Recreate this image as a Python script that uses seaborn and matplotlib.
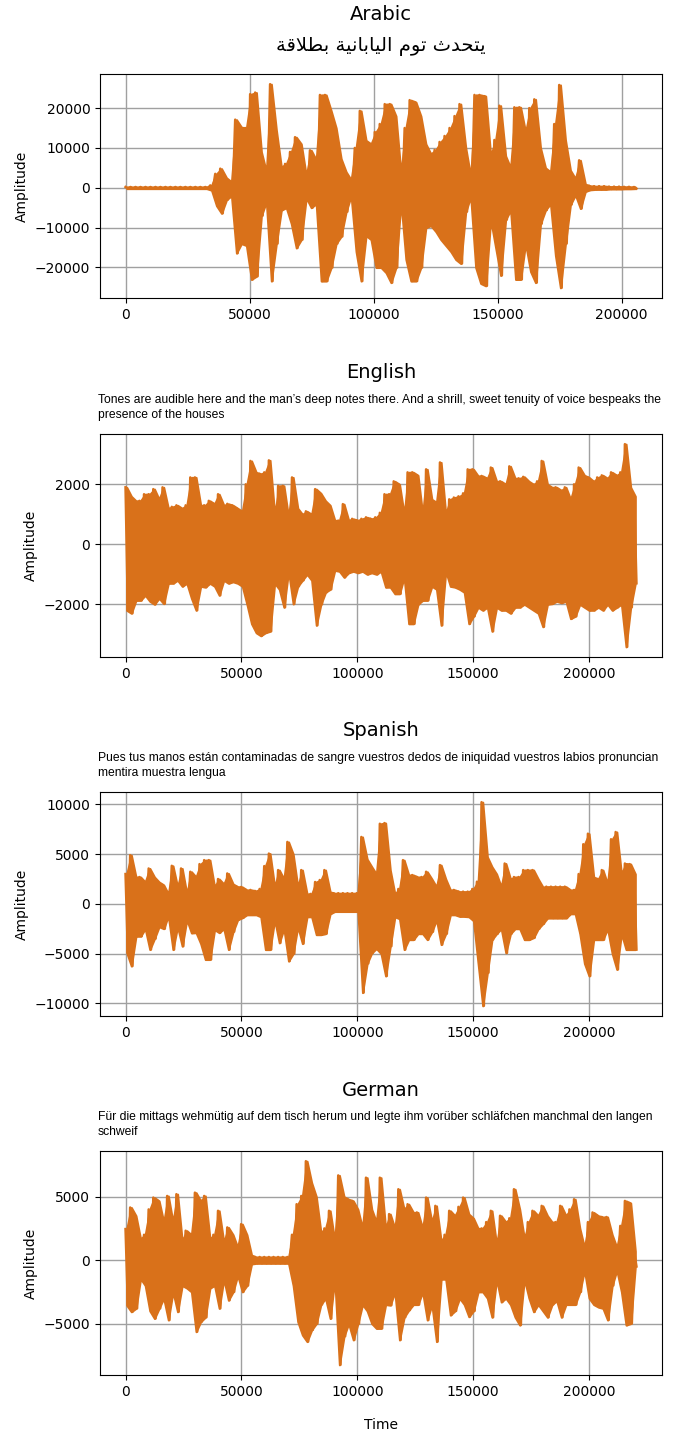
import numpy as np
import pandas as pd
import matplotlib
matplotlib.use("Agg")
import matplotlib.pyplot as plt
import seaborn as sns
from matplotlib.ticker import MultipleLocator

# ---------------- data (min/max envelope per 2000-sample block) -------------
languages = ["Arabic", "English", "Spanish", "German"]
captions = {
    "Arabic": "يتحدث توم اليابانية بطلاقة",
    "English": "Tones are audible here and the man\u2019s deep notes there. And a shrill, sweet tenuity of voice bespeaks the\npresence of the houses",
    "Spanish": "Pues tus manos están contaminadas de sangre vuestros dedos de iniquidad vuestros labios pronuncian\nmentira muestra lengua",
    "German": "Für die mittags wehmütig auf dem tisch herum und legte ihm vorüber schläfchen manchmal den langen\nschweif",
}
n_samples = {"Arabic": 206000, "English": 220500, "Spanish": 220500, "German": 220500}

arabic_max = [200, 200, 200, 200, 200, 200, 200, 200, 200, 200,
              200, 200, 200, 200, 200, 200, 200, 600, 3500, 4800,
              2500, 1500, 17100, 15200, 15000, 23500, 23900, 9000, 4000, 26000,
              14500, 5200, 6000, 9000, 12700, 11000, 3000, 9400, 7000, 23300,
              23300, 19300, 15000, 7300, 4000, 2000, 10000, 19300, 11900, 11000,
              14000, 16000, 21000, 21000, 18000, 3600, 15000, 22000, 21500, 18000,
              11000, 8500, 9500, 11500, 13000, 15000, 18000, 21000, 10000, 2800,
              23300, 23300, 23000, 8000, 12000, 20600, 8000, 5000, 20200, 20200,
              14000, 20000, 22200, 10000, 5000, 4000, 16000, 25800, 12000, 4400,
              2300, 6900, 900, 500, 400, 400, 400, 300, 300, 300,
              250, 250, 200]
arabic_min = [-200, -200, -200, -200, -200, -200, -200, -200, -200, -200,
              -200, -200, -200, -200, -200, -200, -200, -600, -4500, -6400,
              -3000, -2000, -16400, -14000, -14500, -23000, -22200, -7000, -3500, -23400,
              -14000, -5600, -5000, -9000, -15100, -13000, -2500, -5000, -4000, -23400,
              -23400, -20000, -14000, -12200, -6000, -2000, -16000, -23400, -12000, -13000,
              -20000, -20000, -21300, -23800, -20000, -3500, -18000, -23400, -23400, -20000,
              -10000, -9500, -11000, -13000, -14500, -16000, -18000, -19000, -6000, -2200,
              -20000, -24000, -24600, -8000, -15000, -22000, -8000, -5600, -23000, -23000,
              -14000, -21000, -23800, -9000, -5600, -4000, -17000, -25100, -14000, -4200,
              -1800, -5200, -900, -500, -400, -400, -400, -300, -300, -300,
              -250, -250, -200]

english_max = [1900, 1600, 1450, 1450, 1670, 1670, 1840, 1500, 1900, 1200,
               1250, 1300, 1200, 1300, 2230, 2230, 1300, 1300, 1450, 1350,
               1670, 1300, 1350, 1300, 1200, 1100, 2000, 2780, 2400, 2350,
               2400, 2800, 1000, 1950, 1950, 900, 2230, 1200, 1000, 1100,
               1000, 1840, 1700, 1450, 1300, 800, 790, 1340, 800, 850,
               800, 850, 900, 850, 900, 1050, 1670, 1670, 2100, 2000,
               1000, 2400, 2400, 2300, 1000, 2500, 1500, 1400, 2730, 1000,
               1500, 1560, 1600, 1700, 2500, 2500, 2280, 2280, 2200, 2560,
               2100, 2100, 2000, 2600, 2200, 2200, 2250, 2100, 2000, 2100,
               2780, 2000, 1900, 1900, 1800, 1900, 1500, 2000, 2560, 2300,
               2230, 2100, 2230, 2300, 2200, 2400, 2300, 2400, 3340, 1900,
               1600]
english_min = [-2200, -2300, -1870, -1870, -1700, -1900, -2000, -1800, -1980, -1300,
               -1300, -1200, -1400, -1300, -1800, -2200, -1400, -1430, -1300, -1400,
               -1700, -1200, -1300, -1250, -1300, -1400, -2000, -2650, -2950, -3050,
               -2950, -2900, -1300, -1500, -2100, -900, -1990, -1400, -1200, -1000,
               -1200, -2700, -2000, -1600, -1500, -870, -900, -1100, -950, -900,
               -950, -900, -1000, -950, -1000, -900, -1430, -1430, -1650, -1650,
               -1100, -2650, -2650, -2000, -1870, -1870, -1400, -1500, -2700, -900,
               -1400, -1430, -1500, -1600, -2650, -2400, -2100, -2200, -2100, -2900,
               -2100, -2200, -2200, -2300, -2100, -2100, -2000, -2100, -2200, -2300,
               -2750, -2000, -1980, -1900, -1950, -1900, -2480, -2400, -2000, -2100,
               -2200, -2200, -2100, -2200, -2000, -2200, -2100, -2000, -3420, -2100,
               -1300]

spanish_max = [3000, 4900, 2700, 2700, 2200, 3560, 2700, 2200, 1900, 1000,
               3830, 1700, 3560, 1000, 3230, 2700, 4000, 4400, 4400, 1700,
               2500, 2000, 3060, 2000, 1730, 1700, 1400, 1400, 1300, 1500,
               3800, 5060, 1700, 3400, 2500, 6230, 5000, 1700, 3400, 1000,
               1000, 2200, 2400, 3400, 1200, 1070, 1070, 1070, 1070, 1070,
               1070, 6730, 4500, 3730, 3000, 8060, 8130, 3400, 1000, 1500,
               4400, 2900, 2900, 2700, 2700, 3230, 2500, 1700, 3900, 2500,
               1400, 1400, 1230, 1230, 1230, 1500, 2230, 10230, 4730, 3730,
               3000, 1700, 4060, 2500, 2700, 2700, 3400, 3400, 3400, 2500,
               1700, 1730, 1730, 1730, 1730, 1730, 1400, 1400, 3000, 6000,
               7060, 2700, 2500, 3400, 2000, 6500, 7230, 3000, 4060, 4000,
               3000]
spanish_min = [-4900, -6260, -3260, -3260, -2500, -4600, -3500, -2300, -2500, -1200,
               -4600, -2300, -4260, -1600, -2930, -2900, -4000, -5600, -5600, -2600,
               -2900, -2500, -4600, -2800, -1600, -1400, -1100, -1100, -1100, -1300,
               -4600, -4600, -1600, -3930, -2500, -5760, -5000, -2300, -4000, -1300,
               -1300, -3100, -3100, -3000, -1000, -770, -770, -770, -770, -770,
               -770, -8930, -6000, -4930, -4500, -5000, -7260, -4260, -1300, -1500,
               -4600, -3600, -3600, -3000, -3000, -3600, -2800, -1600, -4100, -3000,
               -1100, -1100, -1260, -1260, -1300, -1700, -6000, -10260, -6930, -3600,
               -3000, -2500, -4930, -3000, -2500, -2500, -3600, -3600, -3400, -2500,
               -2000, -1430, -1430, -1430, -1430, -1430, -1000, -1000, -3000, -6000,
               -7260, -3600, -3600, -3600, -2500, -5000, -6600, -3000, -4600, -4600,
               -4600]

german_max = [2450, 4150, 3500, 1670, 2000, 4000, 4930, 4670, 3000, 5060,
              3000, 5200, 1500, 2320, 2000, 5320, 4670, 5060, 1700, 2000,
              3890, 1400, 2580, 2000, 1000, 2840, 2000, 400, 250, 250,
              250, 250, 250, 250, 250, 250, 2000, 4410, 5060, 7800,
              6100, 5000, 2190, 2500, 3890, 1500, 6680, 5000, 4800, 4670,
              4000, 2500, 6500, 4000, 3000, 6500, 2500, 3630, 2500, 5590,
              4000, 4410, 3760, 3760, 2500, 4930, 3000, 4280, 1500, 2000,
              3890, 3500, 4200, 4930, 3630, 3300, 2500, 2500, 3000, 3890,
              1200, 3500, 3000, 3300, 5590, 4000, 1700, 3000, 3890, 3500,
              4280, 3500, 3000, 3000, 4280, 3500, 4000, 4800, 2500, 1000,
              3000, 3760, 3500, 3400, 3400, 2000, 1000, 2700, 4670, 4500,
              700]
german_min = [-3550, -4070, -3800, -1460, -2000, -4000, -4600, -3800, -3000, -4720,
              -2500, -4070, -2000, -2200, -2500, -5640, -4850, -4500, -2200, -2000,
              -3800, -1500, -3160, -2500, -1200, -2500, -2000, -300, -250, -250,
              -250, -250, -250, -250, -250, -250, -2000, -4850, -5900, -6420,
              -5500, -5000, -3500, -3000, -4600, -1500, -8250, -6000, -5000, -6290,
              -5000, -3500, -4000, -5000, -5380, -5380, -3500, -3550, -2500, -6290,
              -4500, -3940, -3500, -3500, -2500, -4720, -3500, -6420, -1500, -1500,
              -4330, -4000, -3000, -3500, -4460, -4000, -2500, -2500, -3000, -4500,
              -1500, -3300, -3000, -3500, -4500, -5120, -1500, -3000, -4070, -3500,
              -4000, -4500, -3500, -3200, -4500, -3500, -3500, -3500, -2500, -800,
              -3000, -3500, -3700, -3800, -4720, -2000, -800, -2500, -5120, -5000,
              -500]

env_max = {"Arabic": arabic_max, "English": english_max, "Spanish": spanish_max, "German": german_max}
env_min = {"Arabic": arabic_min, "English": english_min, "Spanish": spanish_min, "German": german_min}
y_steps = {"Arabic": 10000, "English": 2000, "Spanish": 5000, "German": 5000}

# ---------------- Arabic shaping (presentation forms, visual order) ----------------
FORMS = {  # isolated, final, initial, medial
    "ا": ("\uFE8D", "\uFE8E", None, None), "ب": ("\uFE8F", "\uFE90", "\uFE91", "\uFE92"),
    "ت": ("\uFE95", "\uFE96", "\uFE97", "\uFE98"), "ث": ("\uFE99", "\uFE9A", "\uFE9B", "\uFE9C"),
    "ح": ("\uFEA1", "\uFEA2", "\uFEA3", "\uFEA4"), "د": ("\uFEA9", "\uFEAA", None, None),
    "ط": ("\uFEC1", "\uFEC2", "\uFEC3", "\uFEC4"), "ق": ("\uFED5", "\uFED6", "\uFED7", "\uFED8"),
    "ل": ("\uFEDD", "\uFEDE", "\uFEDF", "\uFEE0"), "م": ("\uFEE1", "\uFEE2", "\uFEE3", "\uFEE4"),
    "ن": ("\uFEE5", "\uFEE6", "\uFEE7", "\uFEE8"), "ة": ("\uFE93", "\uFE94", None, None),
    "و": ("\uFEED", "\uFEEE", None, None), "ي": ("\uFEF1", "\uFEF2", "\uFEF3", "\uFEF4"),
    "لا": ("\uFEFB", "\uFEFC", None, None),
}


def shape_arabic(text):
    units, i = [], 0
    while i < len(text):
        if text[i] == "ل" and i + 1 < len(text) and text[i + 1] == "ا":
            units.append("لا"); i += 2
        else:
            units.append(text[i]); i += 1
    out = []
    for k, u in enumerate(units):
        if u not in FORMS:
            out.append(u); continue
        prev = units[k - 1] if k > 0 else None
        nxt = units[k + 1] if k + 1 < len(units) else None
        jp = prev in FORMS and FORMS[prev][2] is not None
        jn = FORMS[u][2] is not None and nxt in FORMS
        f = FORMS[u]
        out.append(f[3] if (jp and jn) else f[1] if jp else f[2] if jn else f[0])
    return "".join(out)[::-1]


# ---------------- figure ----------------
W, H = 674, 1431
fig = plt.figure(figsize=(W / 100, H / 100), dpi=100)
panel_px = {"Arabic": (74, 298), "English": (434, 657), "Spanish": (792, 1016), "German": (1151, 1375)}
line_color = "#d9711a"

for lang in languages:
    top, bot = panel_px[lang]
    ax = fig.add_axes([100 / W, 1 - bot / H, 562 / W, (bot - top) / H])
    mx, mn = np.asarray(env_max[lang]), np.asarray(env_min[lang])
    amp = np.empty(2 * len(mx))
    amp[0::2] = mx
    amp[1::2] = mn
    t = np.linspace(0, n_samples[lang], len(amp))
    df = pd.DataFrame({"Time": t, "Amplitude": amp})
    # envelope body (solid, as dense audio samples look at this scale)
    tb = t[0::2] + (t[1] - t[0]) / 2
    ax.fill_between(tb, mn, mx, color=line_color, linewidth=1.5, edgecolor=line_color)
    # the min/max sample trace
    sns.lineplot(data=df, x="Time", y="Amplitude", ax=ax, color=line_color,
                 linewidth=1.8, estimator=None, sort=False)
    ax.set_axisbelow(True)
    ax.grid(True, color="#a0a0a0", linewidth=1.0)
    ax.xaxis.set_major_locator(MultipleLocator(50000))
    ax.yaxis.set_major_locator(MultipleLocator(y_steps[lang]))
    ax.set_ylabel("Amplitude")
    if lang == "German":
        ax.set_xlabel("Time", labelpad=14)
    else:
        ax.set_xlabel("")

    cx = (100 + 662) / 2 / W
    if lang == "Arabic":
        fig.text(cx, 1 - 15 / H, lang, ha="center", va="center", fontsize=14)
        fig.text(cx, 1 - 47 / H, shape_arabic(captions[lang]), ha="center", va="center",
                 fontsize=14, family=["DejaVu Sans"])
    else:
        fig.text(cx, 1 - (top - 61) / H, lang, ha="center", va="center", fontsize=14)
        fig.text(98 / W, 1 - (top - 26.5) / H, captions[lang], ha="left", va="center",
                 fontsize=8.7, family=["Liberation Sans", "DejaVu Sans"], linespacing=1.38)

fig.savefig("out.png", dpi=100)
